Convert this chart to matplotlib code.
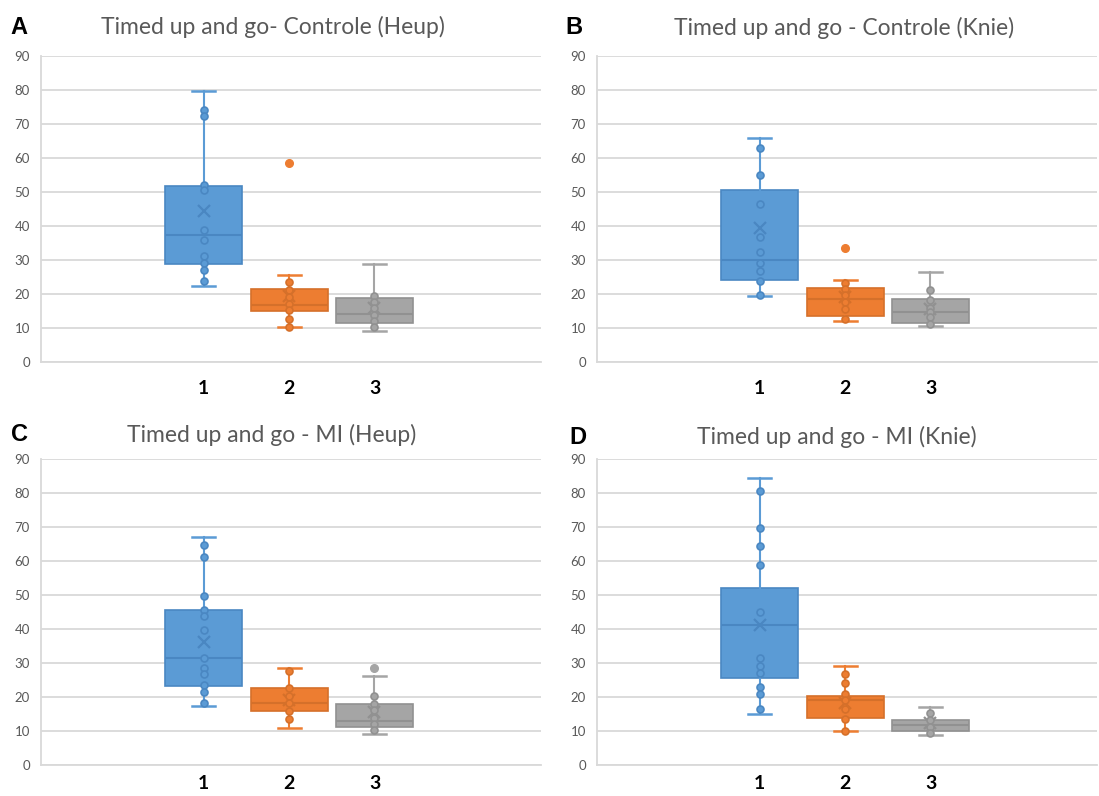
import matplotlib
matplotlib.use('Agg')
import matplotlib.pyplot as plt

# Panels and titles
panels = ["A", "B", "C", "D"]
titles = ["Timed up and go- Controle (Heup)",
          "Timed up and go - Controle (Knie)",
          "Timed up and go - MI (Heup)",
          "Timed up and go - MI (Knie)"]
groups = ["1", "2", "3"]

# Box statistics (per panel: group 1, 2, 3)
q1 = {"A": [28.9, 15.0, 11.5], "B": [24.0, 13.6, 11.6],
      "C": [23.3, 15.8, 11.2], "D": [25.5, 13.7, 10.1]}
median = {"A": [37.4, 16.8, 14.1], "B": [30.0, 18.5, 14.6],
          "C": [31.5, 18.1, 12.9], "D": [41.1, 19.2, 11.8]}
q3 = {"A": [51.9, 21.6, 18.7], "B": [50.6, 21.7, 18.6],
      "C": [45.5, 22.7, 17.8], "D": [52.2, 20.3, 13.3]}
whisker_lo = {"A": [22.5, 10.2, 9.0], "B": [19.5, 12.2, 10.7],
              "C": [17.5, 10.8, 9.2], "D": [15.0, 10.0, 8.9]}
whisker_hi = {"A": [79.6, 25.7, 28.9], "B": [65.8, 24.0, 26.6],
              "C": [67.2, 28.5, 26.3], "D": [84.3, 29.1, 17.2]}
means = {"A": [44.4, 19.4, 16.0], "B": [39.4, 19.1, 15.7],
         "C": [36.1, 19.1, 15.6], "D": [41.3, 18.2, 12.3]}
outliers = {"A": [[], [58.6], []], "B": [[], [33.5], []],
            "C": [[], [], [28.4]], "D": [[], [], []]}

# individual data points (inner points)
points = {
    "A": [[74.1, 72.3, 52.2, 50.6, 38.7, 36.0, 31.1, 29.1, 27.0, 23.7],
          [23.4, 21.1, 19.2, 17.2, 15.2, 12.7, 10.2],
          [19.4, 17.7, 16.0, 13.8, 12.1, 10.4]],
    "B": [[63.0, 55.0, 46.5, 36.9, 32.5, 29.0, 26.7, 23.8, 19.6],
          [23.3, 21.5, 19.6, 17.6, 15.6, 12.6],
          [21.2, 18.3, 16.0, 14.7, 13.2, 11.3]],
    "C": [[64.8, 61.3, 49.6, 45.5, 43.7, 39.8, 31.5, 28.6, 26.9, 23.5, 21.4, 18.3],
          [27.7, 22.7, 20.3, 18.1, 15.8, 13.6],
          [20.3, 17.9, 16.1, 13.7, 12.0, 10.3]],
    "D": [[80.7, 69.8, 64.3, 58.8, 45.0, 31.4, 29.1, 27.0, 23.0, 20.9, 16.6],
          [26.8, 24.2, 20.9, 19.2, 16.4, 13.5, 10.0],
          [15.2, 13.1, 11.3, 9.4]],
}

fill_colors = ["#5B9BD5", "#ED7D31", "#A5A5A5"]
edge_colors = ["#4A87C2", "#D5702A", "#919191"]

W, H = 1099, 796
fig = plt.figure(figsize=(W / 100, H / 100), dpi=100)

# axes boxes in pixels: left, top(90), right, bottom(0)
boxes_px = {"A": (41, 56, 541, 362), "B": (597, 56, 1097, 362),
            "C": (41, 459, 541, 765), "D": (597, 459, 1097, 765)}
letter_px = {"A": (19, 27), "B": (574, 28), "C": (19, 435), "D": (578, 437)}
title_px = {"A": (273, 27), "B": (844, 28), "C": (272, 435), "D": (837, 437)}
xlabel_pad = {"A": 13, "B": 13, "C": 7, "D": 7}

for p, title in zip(panels, titles):
    l, t, r, b = boxes_px[p]
    ax = fig.add_axes([l / W, 1 - b / H, (r - l) / W, (b - t) / H])
    stats = []
    for i in range(3):
        stats.append(dict(med=median[p][i], q1=q1[p][i], q3=q3[p][i],
                          whislo=whisker_lo[p][i], whishi=whisker_hi[p][i],
                          mean=means[p][i], fliers=[]))
    pos = [1, 2, 3]
    bp = ax.bxp(stats, positions=pos, widths=0.9, patch_artist=True,
                showmeans=True, showfliers=False, capwidths=0.27,
                manage_ticks=False)
    for i in range(3):
        bp['boxes'][i].set(facecolor=fill_colors[i], edgecolor=edge_colors[i], linewidth=1.2)
        bp['medians'][i].set(color=edge_colors[i], linewidth=1.5)
        for k in (2 * i, 2 * i + 1):
            bp['whiskers'][k].set(color=fill_colors[i], linewidth=1.5)
            bp['caps'][k].set(color=fill_colors[i], linewidth=1.8)
        bp['means'][i].set(marker='x', markersize=9, markeredgewidth=1.6,
                           markeredgecolor=edge_colors[i], markerfacecolor='none')
        # inner points and outliers
        ax.plot([pos[i]] * len(points[p][i]), points[p][i], 'o', ms=5,
                mfc=fill_colors[i], mec=edge_colors[i], mew=1.2, zorder=4)
        if outliers[p][i]:
            ax.plot([pos[i]] * len(outliers[p][i]), outliers[p][i], 'o', ms=5.5,
                    mfc=fill_colors[i], mec=fill_colors[i], zorder=4)

    ax.set_xlim(-0.905, 4.95)
    ax.set_ylim(0, 90)
    ax.set_yticks(range(0, 91, 10))
    ax.set_xticks(pos)
    ax.set_xticklabels(groups, fontsize=14, fontweight='bold', family='Lato')
    ax.grid(axis='y', color='#D9D9D9', linewidth=1.3)
    ax.set_axisbelow(True)
    for s in ('top', 'right'):
        ax.spines[s].set_visible(False)
    ax.spines['left'].set_color('#D9D9D9')
    ax.spines['bottom'].set_color('#D9D9D9')
    ax.spines['left'].set_linewidth(1.3)
    ax.spines['bottom'].set_linewidth(1.3)
    ax.tick_params(axis='y', length=0, labelsize=9.5, labelcolor='#595959', pad=8)
    ax.tick_params(axis='x', length=0, pad=xlabel_pad[p])
    for lab in ax.get_yticklabels():
        lab.set_family('Lato')

    fig.text(letter_px[p][0] / W, 1 - letter_px[p][1] / H, p, fontsize=17,
             fontweight='bold', family='Liberation Sans', ha='center', va='center')
    fig.text(title_px[p][0] / W, 1 - title_px[p][1] / H, title, fontsize=16.5,
             color='#595959', family='Lato', ha='center', va='center')

fig.savefig('out.png', dpi=100, facecolor='white')
